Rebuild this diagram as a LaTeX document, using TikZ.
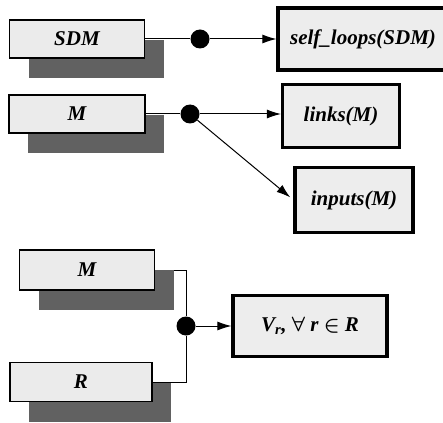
\documentclass[tikz,border=0pt]{standalone}
\usepackage{fontspec}
\setmainfont{Liberation Serif}
\usetikzlibrary{arrows.meta,shadows,backgrounds}

\begin{document}
\begin{tikzpicture}[
x=1pt, y=-1pt,
font=\fontsize{21}{24}\selectfont\bfseries\itshape,
every node/.style={inner sep=0pt},
]
% \draw [help lines, step=20] (0,0) grid (443,422);

\tikzset{
	src/.style={draw, line width=1.3pt, fill=gray!16,
		drop shadow={shadow xshift=19pt, shadow yshift=-20pt, fill=black!62, opacity=1}},
	res/.style={draw, line width=3.2pt, fill=gray!14},
	dot/.style={circle, fill=black, minimum size=19pt},
	con/.style={line width=1pt},
	arr/.style={con, -{Latex[length=14pt, width=9pt]}},
}

\useasboundingbox (0,0) rectangle (443,422);

\node[src, minimum width=135pt, minimum height=38pt] (sdm) at (77,39) {SDM};
\node[dot] (j1) at (200,39) {};
\node[res, minimum width=170pt, minimum height=62pt] (selfloops) at (363,39) {self\_loops(SDM)};

\node[src, minimum width=136pt, minimum height=38pt] (m1) at (77,114) {M};
\node[dot] (j2) at (190,114) {};
\node[res, minimum width=117pt, minimum height=63pt] (links) at (341,116) {links(M)};
\node[res, minimum width=118pt, minimum height=65pt] (inputs) at (354,200) {inputs(M)};

\node[src, minimum width=135pt, minimum height=40pt] (m2) at (87,270) {M};
\node[src, minimum width=142pt, minimum height=39pt] (r) at (81,382) {R};
\node[dot] (j3) at (186,326) {};
\node[res, minimum width=154pt, minimum height=61pt] (vr) at (310,326)
	{V\textsubscript{r},\ {\boldmath$\forall$}\ r\ {\boldmath$\in$}\ R};

\begin{pgfonlayer}{background}
\draw[con] (sdm) -- (j1);
\draw[arr] (j1) -- (selfloops);
\draw[con] (m1) -- (j2);
\draw[arr] (j2) -- (j2 -| links.west);
\draw[arr, shorten >=4pt] (j2) -- (inputs.west);
\draw[con] (m2.east) -| (j3);
\draw[con] (r.east) -| (j3);
\draw[arr] (j3) -- (vr);
\end{pgfonlayer}

\end{tikzpicture}
\end{document}
